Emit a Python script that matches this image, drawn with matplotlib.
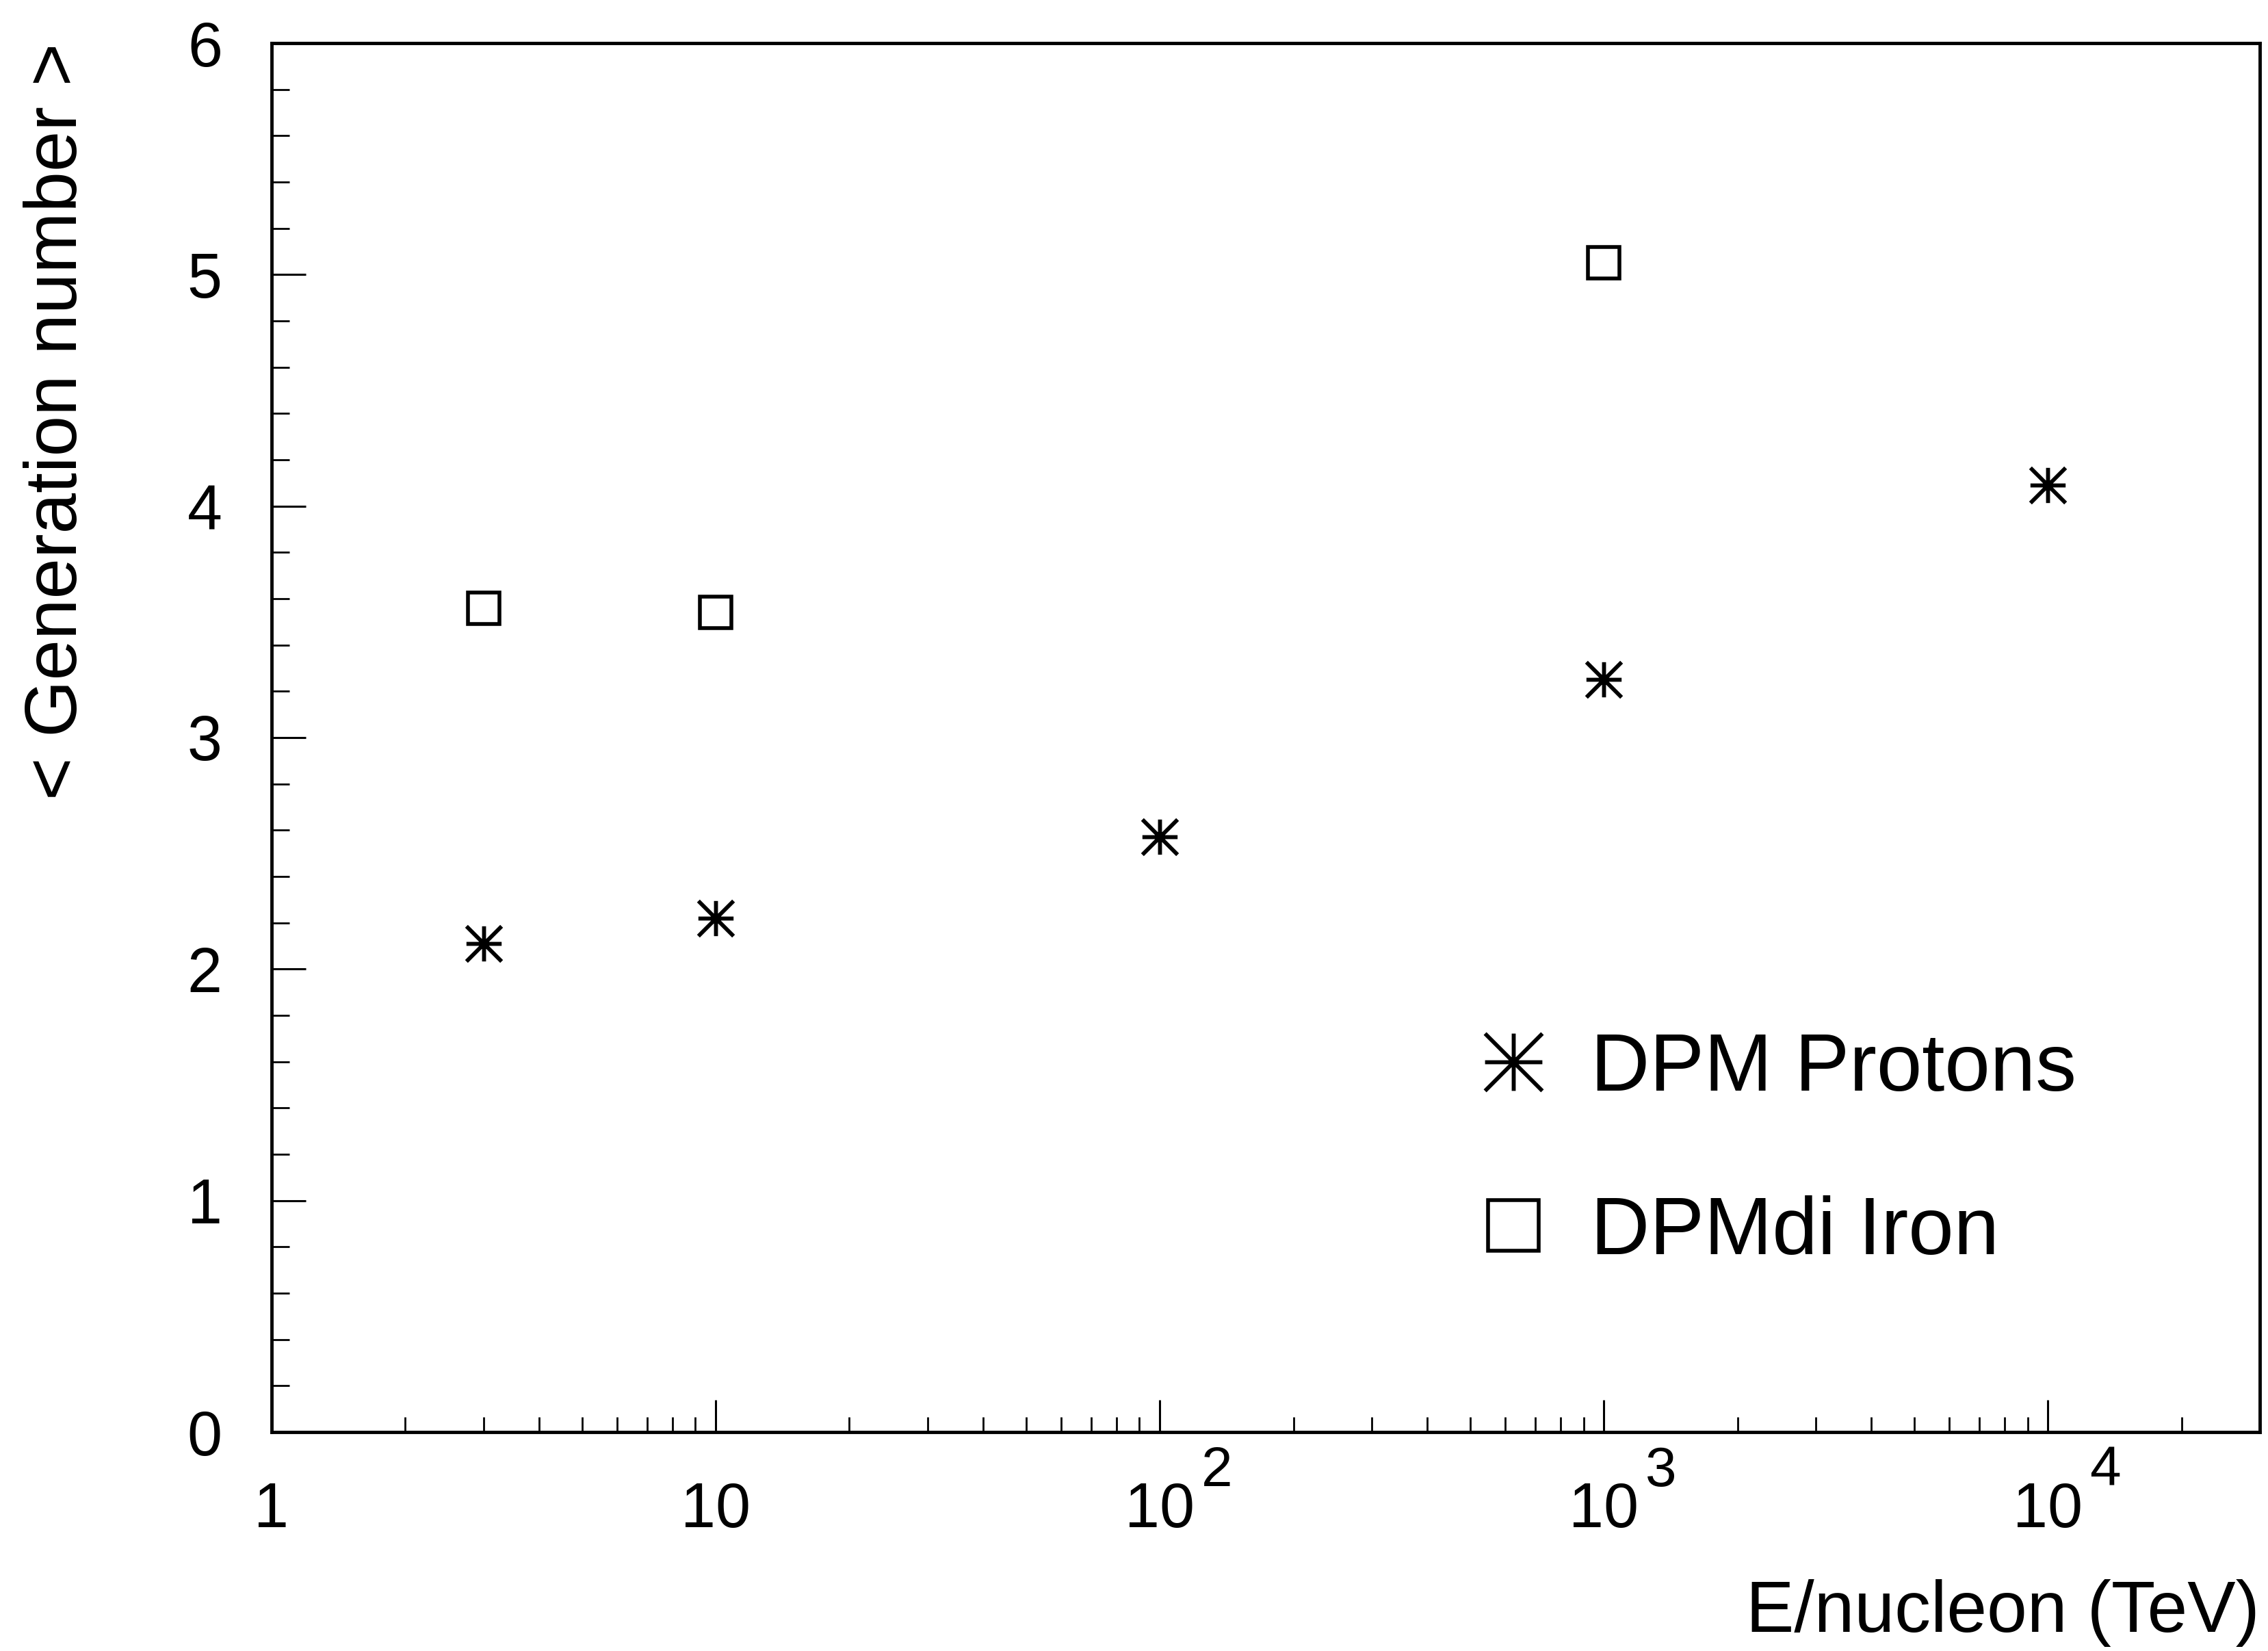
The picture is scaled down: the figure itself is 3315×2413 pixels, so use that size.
import matplotlib
matplotlib.use("Agg")
import matplotlib.pyplot as plt
from matplotlib.path import Path
from matplotlib import font_manager
import matplotlib.transforms as mtransforms

# ---- data ----
proton_energy = [3, 10, 100, 1000, 10000]
proton_gen = [2.11, 2.22, 2.57, 3.25, 4.09]
iron_energy = [3, 10, 1000]
iron_gen = [3.56, 3.54, 5.05]
xtick_vals = [1, 10, 100, 1000, 10000]
xtick_labels = ["1", "10", "10", "10", "10"]
xtick_exponents = ["", "", "2", "3", "4"]
ytick_vals = [0, 1, 2, 3, 4, 5, 6]
ytick_labels = ["0", "1", "2", "3", "4", "5", "6"]

names = {f.name for f in font_manager.fontManager.ttflist}
fam = [f for f in ["Liberation Sans Narrow", "Liberation Sans", "DejaVu Sans"] if f in names]
plt.rcParams["font.family"] = fam

W, H = 3315, 2413
fig = plt.figure(figsize=(W / 100, H / 100), dpi=100)
L, R, T, B = 397, 3303, 63, 2093
ax = fig.add_axes([L / W, 1 - B / H, (R - L) / W, (B - T) / H])

ax.set_xscale("log")
ax.set_xlim(1, 3e4)
ax.set_ylim(0, 6)

ast = Path([(-0.5, 0), (0.5, 0), (0, -0.5), (0, 0.5), (-0.5, -0.5), (0.5, 0.5), (-0.5, 0.5), (0.5, -0.5)],
           [Path.MOVETO, Path.LINETO] * 4)

ax.plot(proton_energy, proton_gen, linestyle="none", marker=ast, markersize=37,
        markerfacecolor="none", markeredgecolor="black", markeredgewidth=4.2, label="DPM Protons")
ax.plot(iron_energy, iron_gen, linestyle="none", marker="s", markersize=33,
        markerfacecolor="none", markeredgecolor="black", markeredgewidth=4, label="DPMdi Iron")

for s in ax.spines.values():
    s.set_linewidth(3.5)

ax.set_xticks(xtick_vals, labels=xtick_labels)
ax.set_yticks(ytick_vals, labels=ytick_labels)
ax.yaxis.set_minor_locator(matplotlib.ticker.MultipleLocator(0.2))
ax.xaxis.set_minor_locator(matplotlib.ticker.LogLocator(base=10, subs=range(2, 10), numticks=20))
ax.xaxis.set_minor_formatter(matplotlib.ticker.NullFormatter())

ax.tick_params(axis="x", which="major", direction="in", length=34, width=2.2, labelsize=66, pad=100,
               top=False)
ax.tick_params(axis="x", which="minor", direction="in", length=16, width=2, top=False)
ax.tick_params(axis="y", which="major", direction="in", length=36, width=2.2, labelsize=66, pad=52,
               right=False)
ax.tick_params(axis="y", which="minor", direction="in", length=19, width=2, right=False)
for t in ax.xaxis.get_major_ticks():
    t.label1.set_verticalalignment("baseline")

# exponent superscripts of the decade labels
blend = mtransforms.blended_transform_factory(ax.transData, ax.transAxes)
sup_tr = mtransforms.offset_copy(blend, fig=fig, x=44, y=0, units="points")
for xv, ex in zip(xtick_vals, xtick_exponents):
    if ex:
        ax.text(xv, -0.0389, ex, transform=sup_tr, ha="left", va="baseline",
                fontsize=59, clip_on=False)

ax.set_ylabel("< Generation number >", fontsize=77, loc="top")
ax.yaxis.set_label_coords(-0.0905, 1.0)
ax.set_xlabel("E/nucleon (TeV)", fontsize=76, loc="right")
ax.xaxis.set_label_coords(1.0, -0.106)

ax.legend(loc="center left", bbox_to_anchor=(0.608, 0.202), frameon=False, fontsize=86,
          markerscale=1.63, handlelength=0.8, handletextpad=0.55, labelspacing=1.07,
          borderpad=0, borderaxespad=0)

fig.savefig("out.png", dpi=100, facecolor="white")
